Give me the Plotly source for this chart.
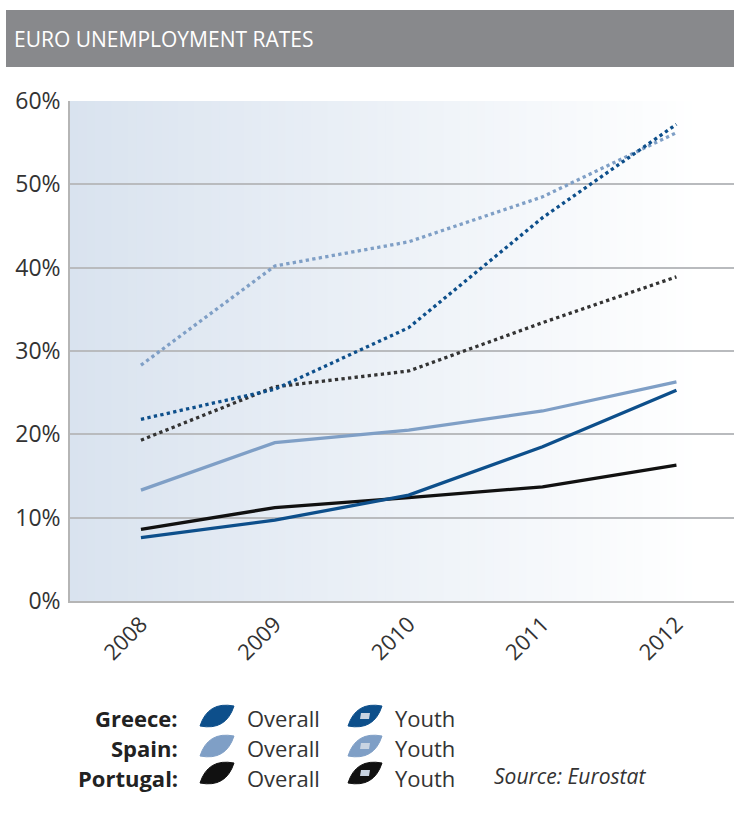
import plotly.graph_objects as go

years = [2008, 2009, 2010, 2011, 2012]
greece_overall = [7.6, 9.7, 12.7, 18.5, 25.3]
spain_overall = [13.3, 19.0, 20.5, 22.8, 26.3]
portugal_overall = [8.6, 11.2, 12.4, 13.7, 16.3]
greece_youth = [21.8, 25.4, 32.8, 46.0, 57.2]
spain_youth = [28.3, 40.2, 43.1, 48.5, 56.2]
portugal_youth = [19.3, 25.7, 27.6, 33.4, 38.9]
y_ticks = [0, 10, 20, 30, 40, 50, 60]
y_labels = ["0%", "10%", "20%", "30%", "40%", "50%", "60%"]

DARK = "#0d4f8b"
LIGHT = "#7f9fc6"
BLACK = "#111111"
FONT = "Open Sans"

W, H = 734, 821
L, R, T, B = 70, 0, 101, 220
PW, PH = W - L - R, H - T - B

def px(x):
    return (x - L) / PW

def py(y):
    return (H - B - y) / PH

fig = go.Figure()

series = [
    ("Spain Youth", spain_youth, LIGHT, "dot"),
    ("Portugal Youth", portugal_youth, "#333333", "dot"),
    ("Greece Youth", greece_youth, DARK, "dot"),
    ("Spain Overall", spain_overall, LIGHT, "solid"),
    ("Portugal Overall", portugal_overall, BLACK, "solid"),
    ("Greece Overall", greece_overall, DARK, "solid"),
]
for name, vals, col, dash in series:
    fig.add_trace(go.Scatter(
        x=years, y=vals, mode="lines", name=name,
        line=dict(color=col, width=3.3, dash=dash),
        showlegend=False, hoverinfo="skip"))

shapes = []
# gradient background
n = 80
c0 = (217, 227, 239)
for i in range(n):
    t = i / (n - 1)
    f = min(1.0, t / 0.95)
    c = tuple(int(round(c0[k] + (255 - c0[k]) * f)) for k in range(3))
    shapes.append(dict(type="rect", xref="paper", yref="paper",
                       x0=i / n, x1=(i + 1) / n + 0.002, y0=0, y1=1,
                       fillcolor="rgb(%d,%d,%d)" % c, line=dict(width=0), layer="below"))
# title bar
shapes.append(dict(type="rect", xref="paper", yref="paper",
                   x0=px(6), x1=px(734), y0=py(67), y1=py(10),
                   fillcolor="#88898c", line=dict(width=0), layer="above"))

# legend leaves
def leaf(cx, cy, col, hole):
    out = [dict(type="path", xref="paper", yref="paper",
                xsizemode="pixel", ysizemode="pixel",
                xanchor=px(cx), yanchor=py(cy),
                path="M -17,-10 Q -9,15 17,10 Q 9,-15 -17,-10 Z",
                fillcolor=col, line=dict(color=col, width=1))]
    if hole:
        out.append(dict(type="path", xref="paper", yref="paper",
                        xsizemode="pixel", ysizemode="pixel",
                        xanchor=px(cx), yanchor=py(cy),
                        path="M -5,-3 L 4,-3 L 5,3 L -4,3 Z",
                        fillcolor="#c9d4e2", line=dict(width=0)))
    return out

rows = [("Greece:", DARK, 718, 716), ("Spain:", LIGHT, 748, 746), ("Portugal:", BLACK, 778, 773)]
annotations = []
for label, col, yy, ly in rows:
    shapes += leaf(217, ly, col, False)
    shapes += leaf(365, ly, col, True)
    annotations.append(dict(text="<b>" + label + "</b>", xref="paper", yref="paper",
                            x=px(180), y=py(yy), xanchor="right", yanchor="middle",
                            showarrow=False, font=dict(family=FONT, size=22, color="#222222")))
    annotations.append(dict(text="Overall", xref="paper", yref="paper",
                            x=px(245), y=py(yy), xanchor="left", yanchor="middle",
                            showarrow=False, font=dict(family=FONT, size=22, color="#333333")))
    annotations.append(dict(text="Youth", xref="paper", yref="paper",
                            x=px(393), y=py(yy), xanchor="left", yanchor="middle",
                            showarrow=False, font=dict(family=FONT, size=22, color="#333333")))

annotations.append(dict(text="<i>Source: Eurostat</i>", xref="paper", yref="paper",
                        x=px(492), y=py(776), xanchor="left", yanchor="middle",
                        showarrow=False, font=dict(family=FONT, size=21, color="#333333")))
annotations.append(dict(text="EURO UNEMPLOYMENT RATES", xref="paper", yref="paper",
                        x=px(12), y=py(39), xanchor="left", yanchor="middle",
                        showarrow=False, font=dict(family=FONT, size=21, color="#ffffff")))

fig.update_layout(
    width=W, height=H,
    margin=dict(l=L, r=R, t=T, b=B, pad=0),
    paper_bgcolor="white", plot_bgcolor="white",
    shapes=shapes, annotations=annotations,
    showlegend=False,
    xaxis=dict(range=[2007.47, 2012.43], tickvals=years, ticktext=[str(y) for y in years],
               tickangle=-45, showgrid=False, zeroline=False,
               showline=True, linecolor="#b5b5b5", linewidth=1.5,
               tickfont=dict(family=FONT, size=22, color="#333333"), ticks=""),
    yaxis=dict(range=[0, 60], tickvals=y_ticks, ticktext=y_labels,
               showgrid=True, gridcolor="#b9bbbe", gridwidth=1.5, zeroline=False,
               showline=True, linecolor="#b5b5b5", linewidth=1.5,
               tickfont=dict(family=FONT, size=23, color="#333333"), ticks="",
               ticklabelstandoff=3),
)

fig.write_html("out.html", config={"displayModeBar": False},
               post_script="document.body.style.margin='0';document.body.style.overflow='hidden';")
